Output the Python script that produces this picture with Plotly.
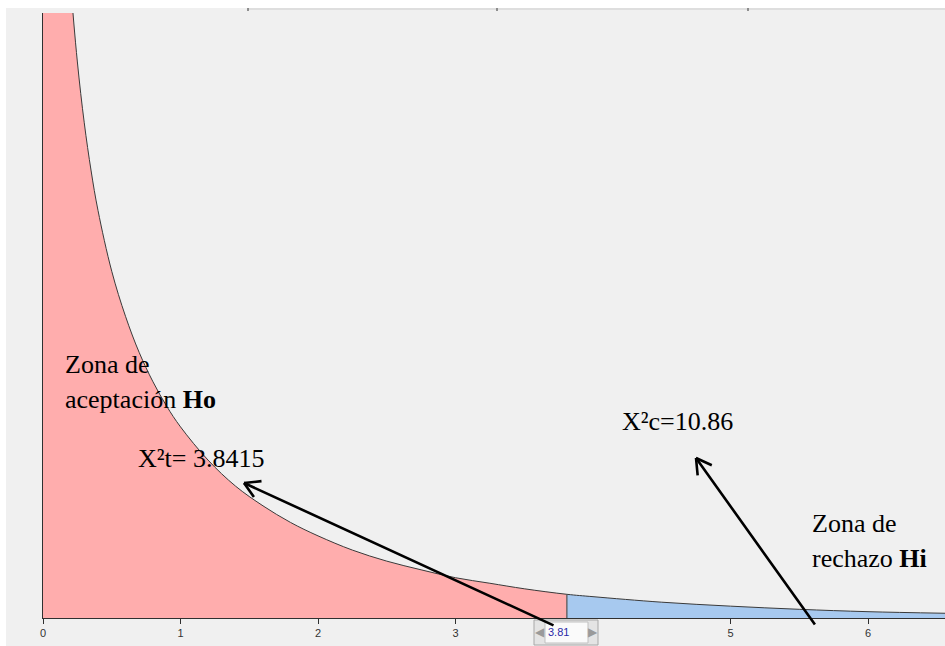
import plotly.graph_objects as go

# ---- data (chi-square density, df=1) ----
x_vals = [0.10, 0.15, 0.20, 0.25, 0.30, 0.35, 0.40, 0.50, 0.60, 0.70, 0.80, 0.90,
          1.00, 1.20, 1.40, 1.60, 1.80, 2.00, 2.25, 2.50, 2.75, 3.00, 3.25, 3.50,
          3.81, 4.00, 4.50, 5.00, 5.50, 6.00, 6.56]
y_vals = [1.200, 0.956, 0.807, 0.704, 0.627, 0.566, 0.516, 0.439, 0.382, 0.336, 0.299, 0.268,
          0.242, 0.200, 0.167, 0.142, 0.121, 0.104, 0.086, 0.072, 0.061, 0.051, 0.044, 0.037,
          0.030, 0.027, 0.020, 0.015, 0.011, 0.008, 0.006]
split_value = 3.81
split_label = "3.81"
tick_vals = [0, 1, 2, 3, 5, 6]
tick_text = ["0", "1", "2", "3", "5", "6"]
x_max = 6.56
y_max = 0.766

W, H = 945, 646
L, R, T, B = 43, 0, 13, 28
PW, PH = W - L - R, H - T - B


def PX(px):
    return (px - L) / PW


def PY(py):
    return (H - B - py) / PH


acc_x = [x for x in x_vals if x <= split_value]
acc_y = [y for x, y in zip(x_vals, y_vals) if x <= split_value]
rej_x = [x for x in x_vals if x >= split_value]
rej_y = [y for x, y in zip(x_vals, y_vals) if x >= split_value]
split_y = y_vals[x_vals.index(split_value)]

PINK = "#ffadad"
BLUE = "#a7c9ef"
BG = "#f0f0f0"
CURVE = "#3a3a3a"

fig = go.Figure()
fig.add_trace(go.Scatter(x=[0] + acc_x, y=[acc_y[0] * 3] + acc_y, mode="none", fill="tozeroy",
                         fillcolor=PINK, line=dict(shape="spline"), hoverinfo="skip"))
fig.add_trace(go.Scatter(x=rej_x, y=rej_y, mode="none", fill="tozeroy",
                         fillcolor=BLUE, line=dict(shape="spline"), hoverinfo="skip"))
fig.add_trace(go.Scatter(x=x_vals, y=y_vals, mode="lines",
                         line=dict(color=CURVE, width=1, shape="spline"), hoverinfo="skip"))
fig.add_trace(go.Scatter(x=[split_value, split_value], y=[0, split_y], mode="lines",
                         line=dict(color="#505050", width=1.2), hoverinfo="skip"))

shapes = []
# gray window background
shapes.append(dict(type="rect", xref="paper", yref="paper", x0=PX(6), x1=PX(945),
                   y0=PY(646), y1=PY(8), fillcolor=BG, line=dict(width=0), layer="below"))
# top ruler strip
shapes.append(dict(type="line", xref="paper", yref="paper", x0=PX(248), x1=PX(945),
                   y0=PY(9), y1=PY(9), line=dict(color="#dedede", width=2)))
for tx in [248, 497, 748]:
    shapes.append(dict(type="line", xref="paper", yref="paper", x0=PX(tx), x1=PX(tx),
                       y0=PY(8), y1=PY(11), line=dict(color="#707070", width=1.5)))
# spinner box
shapes.append(dict(type="rect", xref="paper", yref="paper", x0=PX(534), x1=PX(598),
                   y0=PY(645), y1=PY(620), fillcolor="#e4e4e4", line=dict(color="#a8a8a8", width=1)))
shapes.append(dict(type="rect", xref="paper", yref="paper", x0=PX(545), x1=PX(588),
                   y0=PY(643), y1=PY(622), fillcolor="#fafafa", line=dict(color="#c0c0c0", width=1)))

annotations = []
serif = dict(family="Liberation Serif, Times New Roman, serif", size=26, color="black")


def txt(text, x, baseline):
    annotations.append(dict(text=text, xref="paper", yref="paper", x=PX(x), y=PY(baseline - 9),
                            xanchor="left", yanchor="middle", showarrow=False, font=serif))


txt("Zona de", 63, 373)
txt("aceptación <b>Ho</b>", 63, 408)
txt("X²t= 3.8415", 136, 468)
txt("X²c=10.86", 620, 430)
txt("Zona de", 810, 532)
txt("rechazo <b>Hi</b>", 810, 567)


def arrow(hx, hy, ax, ay):
    annotations.append(dict(text="", xref="paper", yref="paper", x=PX(hx), y=PY(hy),
                            ax=ax, ay=ay, showarrow=True, arrowhead=0, arrowwidth=2.6,
                            arrowcolor="black", standoff=0, startstandoff=0))


# arrow 1
arrow(244, 483, 311, 143)
arrow(244, 483, 19, -2)
arrow(244, 483, 11, 15.5)
# arrow 2
arrow(696, 458, 120, 168)
arrow(696, 458, 17.3, 7.9)
arrow(696, 458, 1.8, 18.9)

# spinner text and buttons
annotations.append(dict(text=split_label, xref="paper", yref="paper", x=PX(546), y=PY(632),
                        xanchor="left", yanchor="middle", showarrow=False,
                        font=dict(family="Liberation Sans, Arial", size=11, color="#2a2aa8")))
annotations.append(dict(text="◀", xref="paper", yref="paper", x=PX(539.5), y=PY(632),
                        xanchor="center", yanchor="middle", showarrow=False,
                        font=dict(family="DejaVu Sans", size=12, color="#9a9a9a")))
annotations.append(dict(text="▶", xref="paper", yref="paper", x=PX(593), y=PY(632),
                        xanchor="center", yanchor="middle", showarrow=False,
                        font=dict(family="DejaVu Sans", size=12, color="#9a9a9a")))

fig.update_layout(
    width=W, height=H, autosize=False,
    margin=dict(l=L, r=R, t=T, b=B, pad=0),
    paper_bgcolor="white", plot_bgcolor=BG,
    showlegend=False,
    shapes=shapes, annotations=annotations,
    xaxis=dict(range=[0, x_max], tickvals=tick_vals, ticktext=tick_text, showgrid=False,
               zeroline=False, showline=True, linecolor="#303030", linewidth=1,
               ticks="outside", ticklen=5, tickcolor="#303030",
               tickfont=dict(family="Liberation Sans, Arial", size=11, color="#333333"),
               fixedrange=True),
    yaxis=dict(range=[0, y_max], showticklabels=False, showgrid=False, zeroline=False,
               showline=True, linecolor="#303030", linewidth=1, ticks="", fixedrange=True),
)

fig.write_html("out.html", config={"displayModeBar": False},
               post_script="document.body.style.margin='0px';document.body.style.overflow='hidden';")
